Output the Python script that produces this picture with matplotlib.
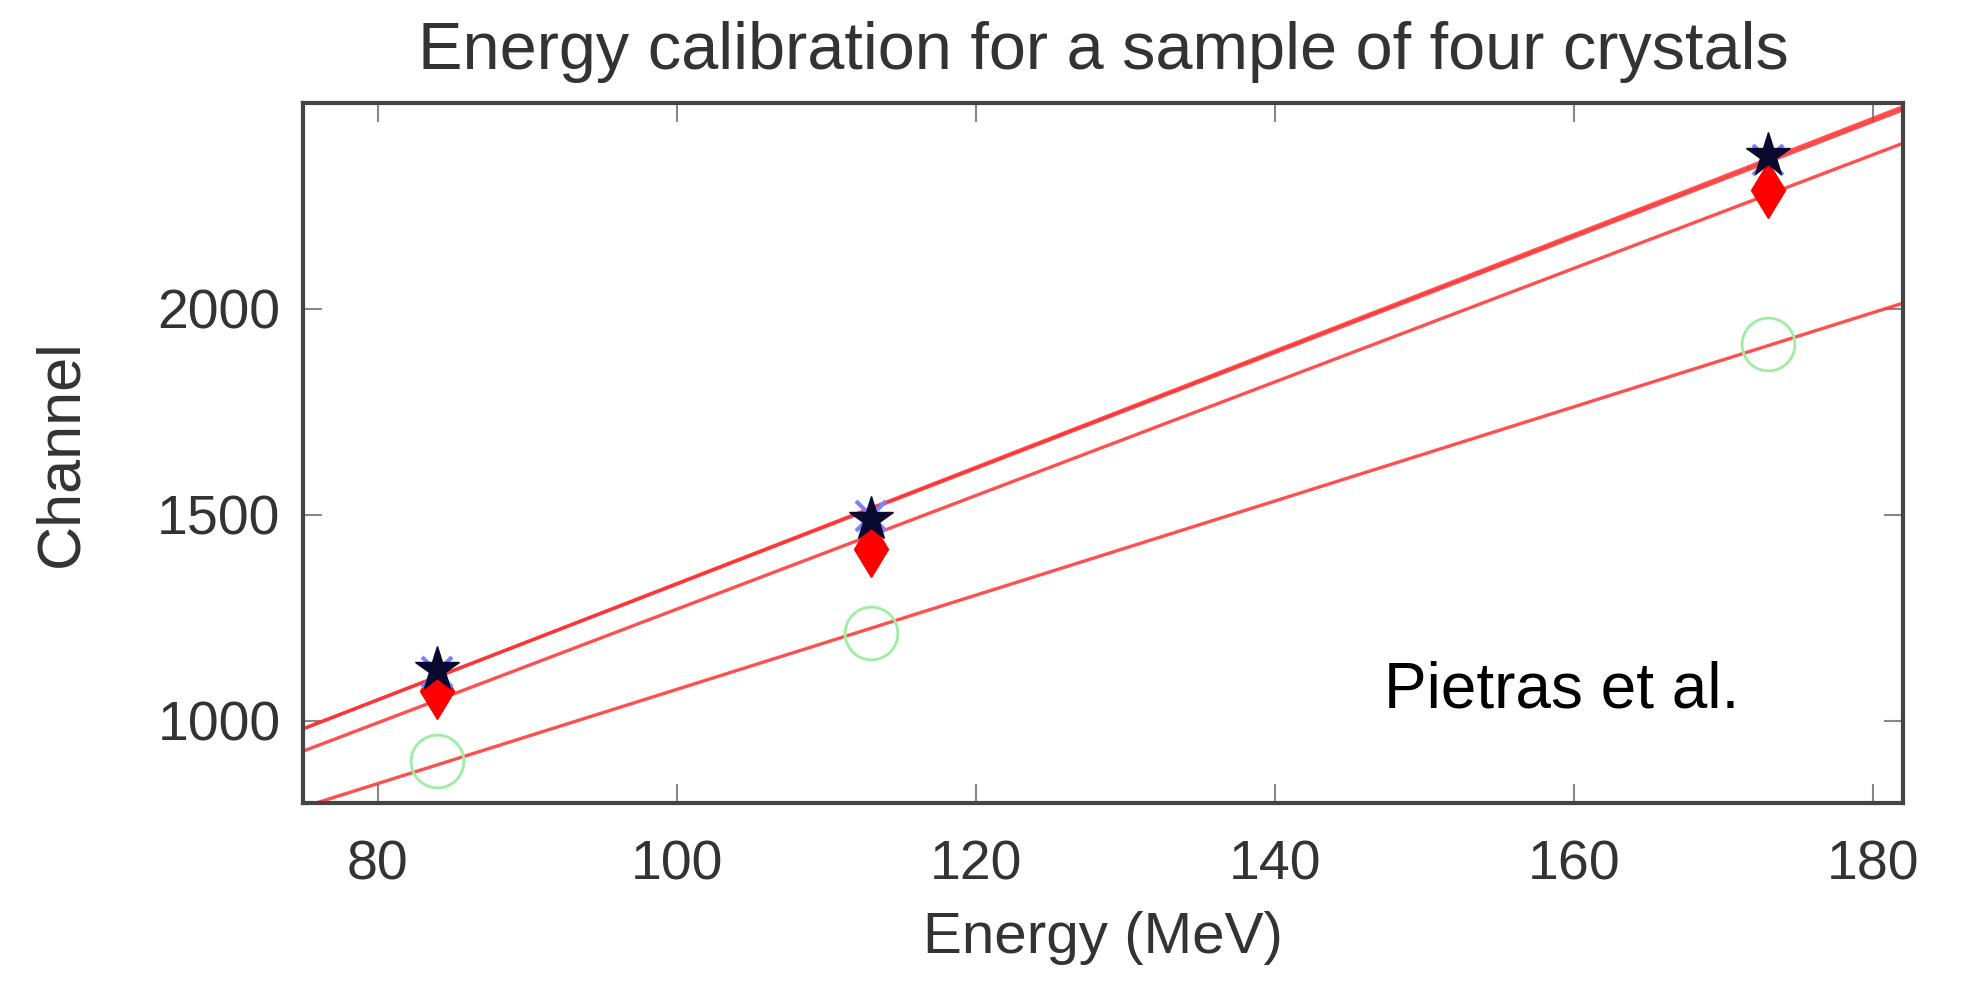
import numpy as np
import matplotlib
matplotlib.use("Agg")
import matplotlib.pyplot as plt

plt.rcParams['font.family'] = ['Liberation Sans', 'DejaVu Sans']

energy = [84, 113, 173]
crystal_star = [1125, 1490, 2372]
crystal_cross = [1118, 1498, 2362]
crystal_diamond = [1072, 1418, 2288]
crystal_circle = [902, 1212, 1915]

xticks = [80, 100, 120, 140, 160, 180]
yticks = [1000, 1500, 2000]

fig = plt.figure(figsize=(19.79, 9.88), dpi=100)
ax = fig.add_axes([0.153, 0.187, 0.8086, 0.709])

xlim = (75, 182)
ax.set_xlim(*xlim)
ax.set_ylim(800, 2500)

xfit = np.linspace(xlim[0], xlim[1], 50)
for ys in [crystal_cross, crystal_star, crystal_diamond, crystal_circle]:
    p = np.polyfit(energy, ys, 1)
    ax.plot(xfit, np.polyval(p, xfit), color='#ff3030', lw=2.4, alpha=0.85, zorder=2)

ax.plot(energy, crystal_circle, 'o', ms=38, mfc='none', mec='#a0eca0', mew=2, zorder=3)
ax.plot(energy, crystal_diamond, 'd', ms=29, color='#ff0000', zorder=3)
ax.plot(energy, crystal_cross, 'x', ms=22, color='#8080ff', mew=3, zorder=3)
ax.plot(energy, crystal_star, '*', ms=33, color='#0a0a30', zorder=4)

ax.set_xticks(xticks)
ax.set_yticks(yticks)
ax.tick_params(direction='in', length=14, width=1.5, color='#888888',
               top=True, right=True, labelsize=40, labelcolor='#333333')
ax.tick_params(axis='x', pad=26)
ax.tick_params(axis='y', pad=16)
for s in ax.spines.values():
    s.set_linewidth(3)
    s.set_color('#444444')

ax.set_title('Energy calibration for a sample of four crystals', fontsize=48,
             color='#333333', pad=24)
ax.set_xlabel('Energy (MeV)', fontsize=42, color='#333333', labelpad=14)
ax.set_ylabel('Channel', fontsize=44, color='#333333', labelpad=48)

ax.text(147.3, 1073, 'Pietras et al.', fontsize=46, color='black', va='center', ha='left')

fig.savefig('out.png', dpi=100)
